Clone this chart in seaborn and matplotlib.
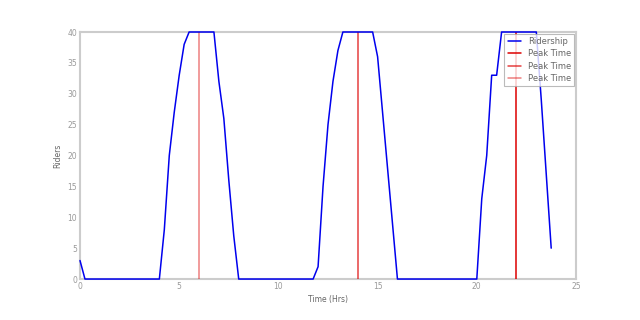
import matplotlib
matplotlib.use("Agg")
import matplotlib.pyplot as plt
import seaborn as sns
import pandas as pd

# Ridership breakpoints (hours, riders)
hours = [0.0, 0.25, 4.0, 4.25, 4.5, 4.75, 5.0, 5.25, 5.5, 6.75, 7.0, 7.25, 7.5, 7.75, 8.0,
         11.75, 12.0, 12.25, 12.5, 12.75, 13.0, 13.25, 14.75, 15.0, 15.25, 15.5, 15.75, 16.0,
         20.0, 20.25, 20.5, 20.75, 21.0, 21.25, 23.0, 23.25, 23.5, 23.75]
riders = [3, 0, 0, 8, 20, 27, 33, 38, 40, 40, 32, 26, 16, 7, 0,
          0, 2, 15, 25, 32, 37, 40, 40, 36, 27, 18, 9, 0,
          0, 13, 20, 33, 33, 40, 40, 29, 17, 5]
peak_times = [22, 14, 6]
peak_alphas = [1.0, 0.75, 0.5]

df = pd.DataFrame({"Time (Hrs)": hours, "Riders": riders})

sns.set_style("white")
fig = plt.figure(figsize=(6.4, 3.2), dpi=100)
ax = fig.add_axes([0.125, 0.128, 0.775, 0.772])

sns.lineplot(data=df, x="Time (Hrs)", y="Riders", ax=ax, color="#0000ee",
             linewidth=1.1, label="Ridership")
ax.lines[0].set_clip_on(False)
ax.lines[0].set_zorder(5)
for t, a in zip(peak_times, peak_alphas):
    ax.axvline(t, color="#dd0000", alpha=a, linewidth=1.1, label="Peak Time")

ax.set_xlim(0, 25)
ax.set_ylim(0, 40)
ax.set_xticks([0, 5, 10, 15, 20, 25])
ax.set_yticks([0, 5, 10, 15, 20, 25, 30, 35, 40])
for s in ax.spines.values():
    s.set_color("#cccccc")
    s.set_linewidth(1.5)
    s.set_zorder(1)
ax.tick_params(axis="both", labelsize=5.5, colors="#cccccc", labelcolor="#999999",
               direction="in", length=2, width=0.6, pad=2)
ax.set_xlabel("Time (Hrs)", fontsize=5.5, color="#666666", labelpad=3)
ax.set_ylabel("Riders", fontsize=5.5, color="#666666", labelpad=4)

leg = ax.legend(loc="upper right", fontsize=6, frameon=True, fancybox=False,
                borderpad=0.4, labelspacing=0.4, handlelength=1.6,
                borderaxespad=0.2)
leg.set_zorder(10)
leg.get_frame().set_edgecolor("#aaaaaa")
leg.get_frame().set_linewidth(0.8)
for txt in leg.get_texts():
    txt.set_color("#666666")

fig.savefig("out.png", dpi=100)
